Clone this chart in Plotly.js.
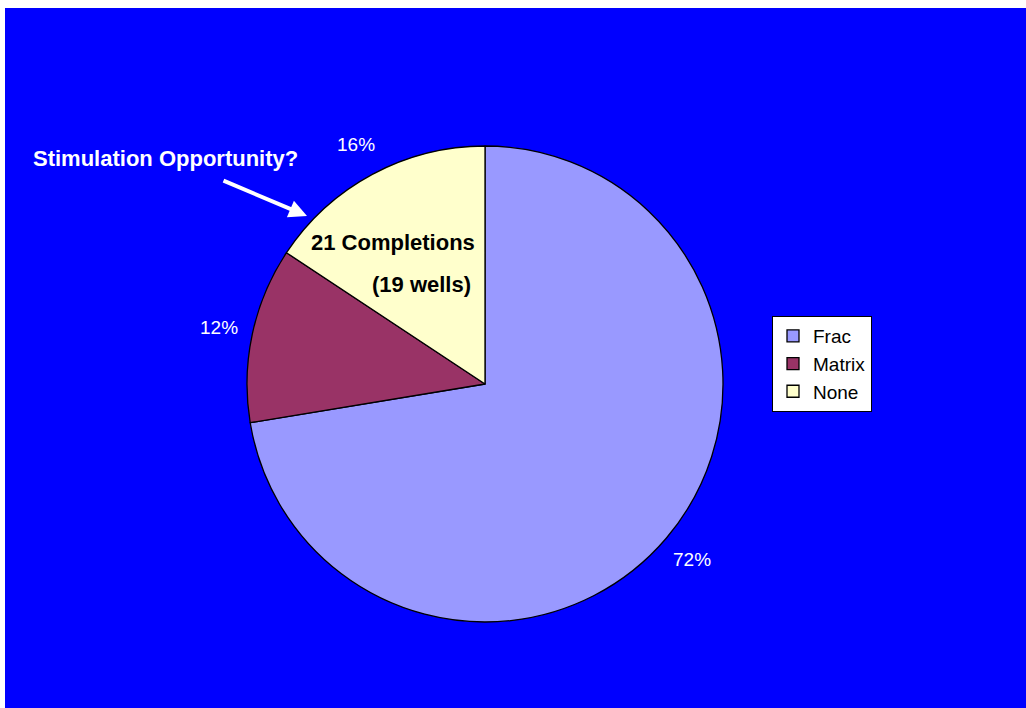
<!DOCTYPE html>
<html>
<head>
<meta charset="utf-8">
<script src="https://cdn.plot.ly/plotly-3.0.1.min.js"></script>
<style>
html,body{margin:0;padding:0;background:#ffffff;width:1026px;height:708px;overflow:hidden;}
#chart{position:absolute;left:5px;top:8px;width:1021px;height:700px;}
</style>
</head>
<body>
<div id="chart"></div>
<script>
const categories = ["Frac", "Matrix", "None"];
const shares = [72.4, 11.9, 15.7];
const sliceColors = ["#9999FF", "#993366", "#FFFFCC"];
const calloutText = "Stimulation Opportunity?";
const noteLines = ["21 Completions", "(19 wells)"];

const W = 1021, H = 700;
const cx = 480, cy = 376, R = 238;   // pie centre/radius in div pixels
const domX = [(cx - R) / W, (cx + R) / W];
const domY = [1 - (cy + R) / H, 1 - (cy - R) / H];

// percentage labels placed outside the pie, computed from the data
const total = shares.reduce((a, b) => a + b, 0);
const labelR = R + 34;
let cum = 0;
const pctAnn = shares.map(function (v) {
  const mid = (cum + v / 2) / total * 2 * Math.PI;
  cum += v;
  const px = cx + labelR * Math.sin(mid);
  const py = cy - labelR * Math.cos(mid);
  return {
    xref: "paper", yref: "paper", x: px / W, y: 1 - py / H,
    xanchor: "center", yanchor: "middle", showarrow: false,
    text: Math.round(v / total * 100) + "%",
    font: {family: "Liberation Sans, Arial, sans-serif", size: 19, color: "#ffffff"}
  };
});

const trace = {
  type: "pie",
  labels: categories,
  values: shares,
  sort: false,
  direction: "clockwise",
  rotation: 0,
  marker: {colors: sliceColors, line: {color: "#000000", width: 1.3}},
  textinfo: "none",
  hoverinfo: "label+percent",
  domain: {x: domX, y: domY}
};

const annotations = pctAnn.concat([
  {
    xref: "paper", yref: "paper", x: 160 / W, y: 1 - 150 / H,
    xanchor: "center", yanchor: "middle", showarrow: false,
    text: "<b>" + calloutText + "</b>",
    font: {family: "Liberation Sans, Arial, sans-serif", size: 22, color: "#ffffff"}
  },
  {
    xref: "paper", yref: "paper", x: 302 / W, y: 1 - 208 / H,
    axref: "pixel", ayref: "pixel", ax: -85, ay: -36,
    text: "", showarrow: true, arrowcolor: "#ffffff",
    arrowwidth: 4, arrowhead: 2, arrowsize: 0.9, standoff: 0
  },
  {
    xref: "paper", yref: "paper", x: 388 / W, y: 1 - 234 / H,
    xanchor: "center", yanchor: "middle", showarrow: false,
    text: "<b>" + noteLines[0] + "</b>",
    font: {family: "Liberation Sans, Arial, sans-serif", size: 22, color: "#000000"}
  },
  {
    xref: "paper", yref: "paper", x: 416 / W, y: 1 - 276 / H,
    xanchor: "center", yanchor: "middle", showarrow: false,
    text: "<b>" + noteLines[1] + "</b>",
    font: {family: "Liberation Sans, Arial, sans-serif", size: 22, color: "#000000"}
  }
]);

const layout = {
  width: W, height: H,
  paper_bgcolor: "#0000FF",
  plot_bgcolor: "#0000FF",
  margin: {l: 0, r: 0, t: 0, b: 0},
  showlegend: true,
  legend: {
    x: 767 / W, y: 1 - 308 / H, xanchor: "left", yanchor: "top",
    bgcolor: "#ffffff", bordercolor: "#000000", borderwidth: 1,
    font: {family: "Liberation Sans, Arial, sans-serif", size: 19, color: "#000000"},
    traceorder: "normal", itemwidth: 30, tracegroupgap: 0
  },
  annotations: annotations
};

Plotly.newPlot("chart", [trace], layout, {displayModeBar: false, staticPlot: true});
</script>
</body>
</html>
